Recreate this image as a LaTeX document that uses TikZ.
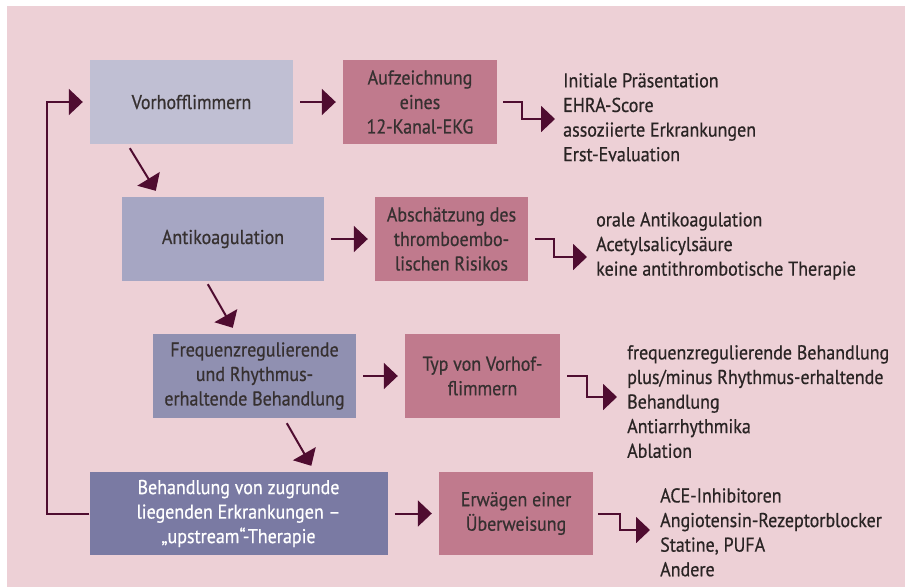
\documentclass[tikz,border=0pt]{standalone}
\usepackage{fontspec}
\setmainfont[FakeStretch=0.9,FakeBold=0.6]{PT Sans}
\usetikzlibrary{arrows.meta,calc}
\definecolor{bg}{HTML}{EDD0D6}
\definecolor{blueA}{HTML}{C0BFD3}
\definecolor{blueB}{HTML}{A6A6C3}
\definecolor{blueC}{HTML}{9090B1}
\definecolor{blueD}{HTML}{7A7AA3}
\definecolor{rosebox}{HTML}{C07A8D}
\definecolor{arrc}{HTML}{4F0C30}
\definecolor{txt}{HTML}{363030}
\definecolor{ltxt}{HTML}{2A2424}
\begin{document}
\begin{tikzpicture}[x=1pt,y=-1pt,
  box/.style={rectangle, inner sep=0pt, align=center, text=txt,
    font=\fontsize{20}{24.5}\selectfont, minimum height=84pt},
  listtxt/.style={inner sep=0pt, anchor=north west, align=left, text=ltxt,
    font=\fontsize{20}{24.6}\selectfont},
  arr/.style={draw=arrc, line width=2pt, -{Triangle[length=14pt,width=26pt]}},
  gap/.style={shorten <=7pt, shorten >=7pt}]
\useasboundingbox (0,0) rectangle (905,587);
\fill[white] (0,0) rectangle (905,587);
\fill[bg] (7,6) rectangle (905,587);

\node[box, fill=blueA, minimum width=203pt] (b1) at (191.5,102) {Vorhofflimmern};
\node[box, fill=rosebox, minimum width=154pt] (b2) at (420,102) {Aufzeichnung\\eines\\12-Kanal-EKG};
\node[box, fill=blueB, minimum width=202pt] (b3) at (223,239) {Antikoagulation};
\node[box, fill=rosebox, minimum width=153pt] (b4) at (451.5,239) {Abschätzung des\\thromboembo-\\lischen Risikos};
\node[box, fill=blueC, minimum width=203pt] (b5) at (254.5,376) {Frequenzregulierende\\und Rhythmus-\\erhaltende Behandlung};
\node[box, fill=rosebox, minimum width=155pt] (b6) at (482.5,376) {Typ von Vorhof-\\flimmern};
\node[box, fill=blueD, text=white, minimum width=298pt, minimum height=83pt] (b7) at (238.5,513.5) {Behandlung von zugrunde\\liegenden Erkrankungen –\\„upstream“-Therapie};
\node[box, fill=rosebox, minimum width=154pt, minimum height=83pt] (b8) at (516,513.5) {Erwägen einer\\Überweisung};

\node[listtxt] (l1) at (563,73) {Initiale Präsentation\\EHRA-Score\\assoziierte Erkrankungen\\Erst-Evaluation};
\node[listtxt] (l2) at (596,212) {orale Antikoagulation\\Acetylsalicylsäure\\keine antithrombotische Therapie};
\node[listtxt] (l3) at (627,345) {frequenzregulierende Behandlung\\plus/minus Rhythmus-erhaltende\\Behandlung\\Antiarrhythmika\\Ablation};
\node[listtxt] (l4) at (660,488) {ACE-Inhibitoren\\Angiotensin-Rezeptorblocker\\Statine, PUFA\\Andere};

\coordinate (t1) at ($(l1.north west)+(-8,46)$);
\coordinate (t2) at ($(l2.north west)+(-9,45)$);
\coordinate (t3) at ($(l3.north west)+(-10,52)$);
\coordinate (t4) at ($(l4.north west)+(-10,42)$);

\draw[arr, gap] (b1) -- (b2);
\draw[arr, gap] (b3) -- (b4);
\draw[arr, gap] (b5) -- (b6);
\draw[arr, gap] (b7) -- (b8);

\draw[arr] ([xshift=6pt]b2.east) -- ++(19,0) |- (t1);
\draw[arr] ([xshift=7pt]b4.east) -- ++(19,0) |- (t2);
\draw[arr] ([xshift=7pt]b6.east) -- ++(20,0) |- (t3);
\draw[arr] ([xshift=5pt]b8.east) -- ++(22,0) |- (t4);

\draw[arr] ($(b1.south west)+(40,4)$) -- ($(b3.north west)+(34,-6)$);
\draw[arr] ($(b3.south west)+(86,3)$) -- ($(b5.north west)+(80,-6)$);
\draw[arr] ($(b5.south west)+(134,5)$) -- ($(b7.north west)+(222,-6)$);

\draw[arr] (b7.west) -- ++(-42,0) |- ([xshift=-7pt]b1.west);
\end{tikzpicture}
\end{document}
